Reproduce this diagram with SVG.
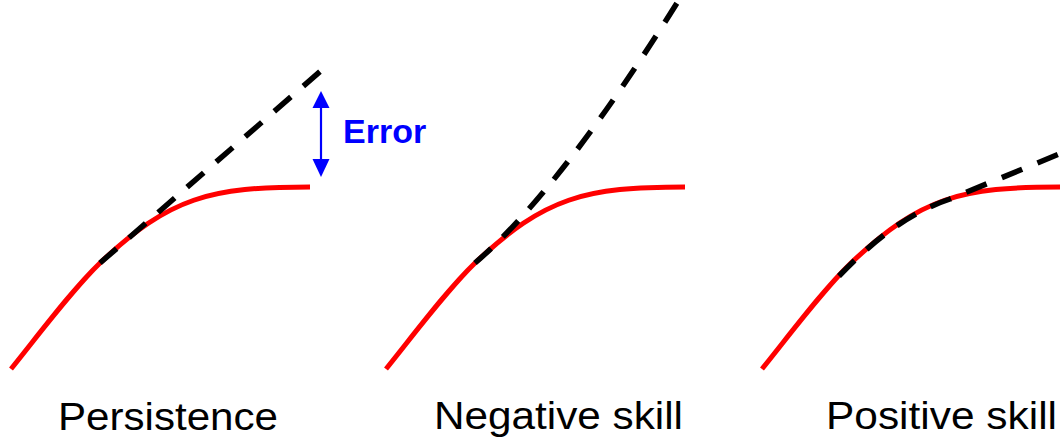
<svg xmlns="http://www.w3.org/2000/svg" xmlns:xlink="http://www.w3.org/1999/xlink" width="1060" height="442" viewBox="0 0 1060 442">
  <style>
    .obs { fill: none; stroke: #ff0000; stroke-width: 5; stroke-linecap: butt; }
    .fc { fill: none; stroke: #000000; stroke-width: 5.5; stroke-dasharray: 22 16.5; }
    .lbl { font-family: "Liberation Sans", Arial, sans-serif; font-size: 38px; fill: #000000; }
    .err { font-family: "Liberation Sans", Arial, sans-serif; font-size: 34px; font-weight: bold; fill: #0000ff; }
    .arrow { stroke: #0000ff; stroke-width: 2.2; fill: none; }
    .head { fill: #0000ff; }
  </style>
  <defs>
    <path id="obsCurve" d="M11,369 C40,333 72,290 100,263 C170,197 210,187 310,187"/>
  </defs>
  <rect x="0" y="0" width="1060" height="442" fill="#ffffff"/>

  <g id="panel-persistence">
    <use xlink:href="#obsCurve" href="#obsCurve" class="obs"/>
    <text class="lbl" x="58" y="430" textLength="220" lengthAdjust="spacingAndGlyphs">Persistence</text>
  </g>

  <g id="panel-negative">
    <use xlink:href="#obsCurve" href="#obsCurve" class="obs" transform="translate(375,0)"/>
    <text class="lbl" x="434" y="429" textLength="249" lengthAdjust="spacingAndGlyphs">Negative skill</text>
  </g>

  <g id="panel-positive">
    <use xlink:href="#obsCurve" href="#obsCurve" class="obs" transform="translate(751,0)"/>
    <text class="lbl" x="826" y="429" textLength="231" lengthAdjust="spacingAndGlyphs">Positive skill</text>
  </g>

  <g id="error-annotation">
    <line class="arrow" x1="321" y1="104" x2="321" y2="162"/>
    <polygon class="head" points="321,91 312.5,108 329.5,108"/>
    <polygon class="head" points="321,177 312.5,159 329.5,159"/>
    <text class="err" x="343" y="143">Error</text>
  </g>

  <g id="connectors">
    <path class="fc" d="M100,263 L323,69"/>
    <path class="fc" d="M475,263 Q560,190 677,3"/>
    <path class="fc" d="M839,276 C870,244 905,214 950,199 L1064,152"/>
  </g>
</svg>
